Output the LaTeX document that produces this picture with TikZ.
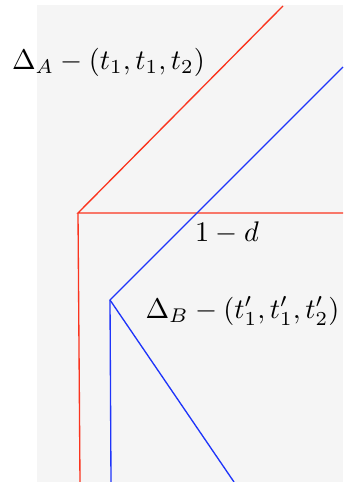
\documentclass[tikz,border=0pt]{standalone}
\usepackage{amsmath, amssymb}
\usepackage{xcolor}
\usepackage{tikz}
\usetikzlibrary{positioning, calc}
\definecolor{paper}{RGB}{245,245,245}
\definecolor{redline}{RGB}{250,52,30}
\definecolor{blueline}{RGB}{30,52,250}
\begin{document}
\begin{tikzpicture}[
  x=0.3pt, y=0.3pt,
  sheet/.style={fill=paper, draw=none},
  redl/.style={draw=redline, line width=0.4pt},
  bluel/.style={draw=blueline, line width=0.4pt},
  lbl/.style={inner sep=0pt, scale=0.85}]
  \useasboundingbox (0,0) rectangle (343,482);
  \fill[sheet] (37,0) rectangle (343,477);
  % red corner
  \coordinate (va) at (78.00,269.00);
  \coordinate (va-up) at (283.00,476.00);
  \coordinate (va-right) at (343.00,269.00);
  \coordinate (va-down) at (80.00,0.00);
  \draw[redl] (va-up) -- (va) -- (va-right);
  \draw[redl] (va) -- (va-down);
  % blue corner
  \coordinate (vb) at (110.00,182.00);
  \coordinate (vb-up) at (343.00,415.00);
  \coordinate (vb-down) at (111.00,0.00);
  \coordinate (vb-diag) at (234.00,0.00);
  \draw[bluel] (vb-up) -- (vb) -- (vb-down);
  \draw[bluel] (vb) -- (vb-diag);
  % labels
  \node[lbl] (la) at (108.50,420.00) {$\Delta_A-(t_1,t_1,t_2)$};
  \node[lbl] (ld) at (227.00,249.00) {$1-d$};
  \node[lbl] (lb) at (242.50,171.00) {$\Delta_B-(t'_1,t'_1,t'_2)$};
\end{tikzpicture}
\end{document}
